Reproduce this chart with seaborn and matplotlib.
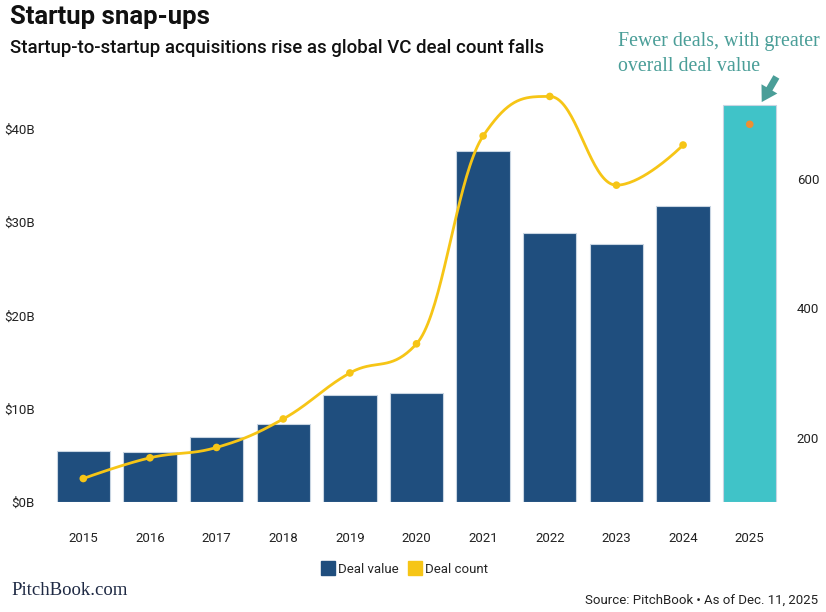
import numpy as np
import pandas as pd
import matplotlib.pyplot as plt
import seaborn as sns
from matplotlib.lines import Line2D

# chart values
years = ['2015', '2016', '2017', '2018', '2019', '2020', '2021', '2022', '2023', '2024', '2025']
deal_value = [5.5, 5.3, 7.0, 8.4, 11.5, 11.7, 37.7, 28.8, 27.7, 31.8, 42.6]
deal_count = [137, 169, 185, 229, 300, 345, 666, 727, 590, 652]
deal_count_2025 = 684

navy = '#1F4E7E'
teal = '#40C3C8'
yellow = '#F6C516'
orange = '#EE8F33'
note_color = '#4A9E98'

sns.set_theme(style='white')
plt.rcParams['font.family'] = ['Roboto', 'DejaVu Sans']
narrow = ['Liberation Sans Narrow', 'Roboto', 'DejaVu Sans']


def spline_path(xv, yv, smoothing=1.5, n=40):
    # highcharts-style spline: control points clamped so no overshoot
    m = len(xv)
    lc = [(xv[i], yv[i]) for i in range(m)]
    rc = [(xv[i], yv[i]) for i in range(m)]
    d = smoothing + 1
    for i in range(1, m - 1):
        lx = (smoothing * xv[i] + xv[i - 1]) / d
        ly = (smoothing * yv[i] + yv[i - 1]) / d
        rx = (smoothing * xv[i] + xv[i + 1]) / d
        ry = (smoothing * yv[i] + yv[i + 1]) / d
        corr = (ry - ly) * (rx - xv[i]) / (rx - lx) + yv[i] - ry
        ly += corr
        ry += corr
        if ly > yv[i - 1] and ly > yv[i]:
            ly = max(yv[i - 1], yv[i])
            ry = 2 * yv[i] - ly
        elif ly < yv[i - 1] and ly < yv[i]:
            ly = min(yv[i - 1], yv[i])
            ry = 2 * yv[i] - ly
        if ry > yv[i + 1] and ry > yv[i]:
            ry = max(yv[i + 1], yv[i])
            ly = 2 * yv[i] - ry
        elif ry < yv[i + 1] and ry < yv[i]:
            ry = min(yv[i + 1], yv[i])
            ly = 2 * yv[i] - ry
        lc[i] = (lx, ly)
        rc[i] = (rx, ry)
    t = np.linspace(0, 1, n)[:, None]
    pts = []
    for i in range(m - 1):
        p0 = np.array([xv[i], yv[i]])
        p1 = np.array(rc[i])
        p2 = np.array(lc[i + 1])
        p3 = np.array([xv[i + 1], yv[i + 1]])
        seg = ((1 - t) ** 3) * p0 + 3 * ((1 - t) ** 2) * t * p1 + 3 * (1 - t) * t ** 2 * p2 + t ** 3 * p3
        pts.append(seg)
    pts = np.vstack(pts)
    return pts[:, 0], pts[:, 1]


fig = plt.figure(figsize=(8.26, 6.12), dpi=100)
ax = fig.add_axes([0.0605, 0.18, 0.8875, 0.673])

df = pd.DataFrame({'Year': years, 'Value': deal_value})
colors = [navy] * 10 + [teal]
sns.barplot(data=df, x='Year', y='Value', hue='Year', palette=colors, order=years,
            legend=False, width=0.8, saturation=1, edgecolor='#C8D5E2', linewidth=0.8, ax=ax)

ax.set_xlim(-0.5, 10.5)
ax.set_ylim(0, 44.2)
ax.set_yticks([0, 10, 20, 30, 40])
ax.set_yticklabels(['$0B', '$10B', '$20B', '$30B', '$40B'], family=narrow, fontsize=9.5, color='#222222')
ax.set_xticks(range(len(years)))
ax.set_xticklabels(years, family=narrow, fontsize=9.5, color='#222222')
ax.tick_params(axis='x', length=0, pad=22)
ax.tick_params(axis='y', length=0, pad=11)
ax.set_xlabel('')
ax.set_ylabel('')
for s in ax.spines.values():
    s.set_visible(False)

# deal count on the right axis
ax2 = ax.twinx()
x = np.arange(len(deal_count), dtype=float)
y = np.array(deal_count, dtype=float)
sx, sy = spline_path(x, y)
ax2.plot(sx, sy, color=yellow, lw=2.0, zorder=3)
sns.scatterplot(x=x, y=y, color=yellow, s=30, edgecolor='none', ax=ax2, zorder=4)
ax2.scatter([10], [deal_count_2025], color=orange, s=30, edgecolor='none', zorder=4)

ax2.set_ylim(101, 737)
ax2.set_yticks([200, 400, 600])
ax2.set_yticklabels(['200', '400', '600'], family=narrow, fontsize=9.5, color='#222222')
ax2.tick_params(axis='y', length=0, pad=10)
ax2.grid(False)
for s in ax2.spines.values():
    s.set_visible(False)

# titles
fig.text(0.012, 0.972, 'Startup snap-ups', fontsize=18.5, fontweight='bold', va='center', color='#111111')
fig.text(0.012, 0.921, 'Startup-to-startup acquisitions rise as global VC deal count falls',
         fontsize=13.4, fontweight='medium', va='center', color='#111111')

# annotation
fig.text(0.748, 0.912, 'Fewer deals, with greater\noverall deal value', family=['Liberation Serif', 'DejaVu Serif'],
         fontsize=14.3, color=note_color, va='center', ha='left', linespacing=1.45)
ax.annotate('', xy=(10.18, 42.9), xycoords='data', xytext=(10.4, 45.6), textcoords='data',
            arrowprops=dict(arrowstyle='simple,head_width=1.2,head_length=1.0,tail_width=0.45',
                            color=note_color, lw=0, mutation_scale=11, shrinkA=0, shrinkB=0),
            annotation_clip=False)

# legend
handles = [Line2D([], [], marker='s', ls='', color=navy, markersize=10, label='Deal value'),
           Line2D([], [], marker='s', ls='', color=yellow, markersize=10, label='Deal count')]
fig.legend(handles=handles, loc='center', bbox_to_anchor=(0.49, 0.07), ncol=2, frameon=False,
           prop={'family': narrow, 'size': 9.5}, handletextpad=0.3, columnspacing=0.7, handlelength=1.0)

# footer
fig.text(0.014, 0.035, 'PitchBook.com', family=['Liberation Serif', 'DejaVu Serif'], fontsize=13.5,
         color='#1F2A44', va='center')
fig.text(0.99, 0.019, 'Source: PitchBook \u2022 As of Dec. 11, 2025', family=narrow, fontsize=9.5,
         color='#222222', ha='right', va='center')

fig.savefig('out.png', dpi=100)
